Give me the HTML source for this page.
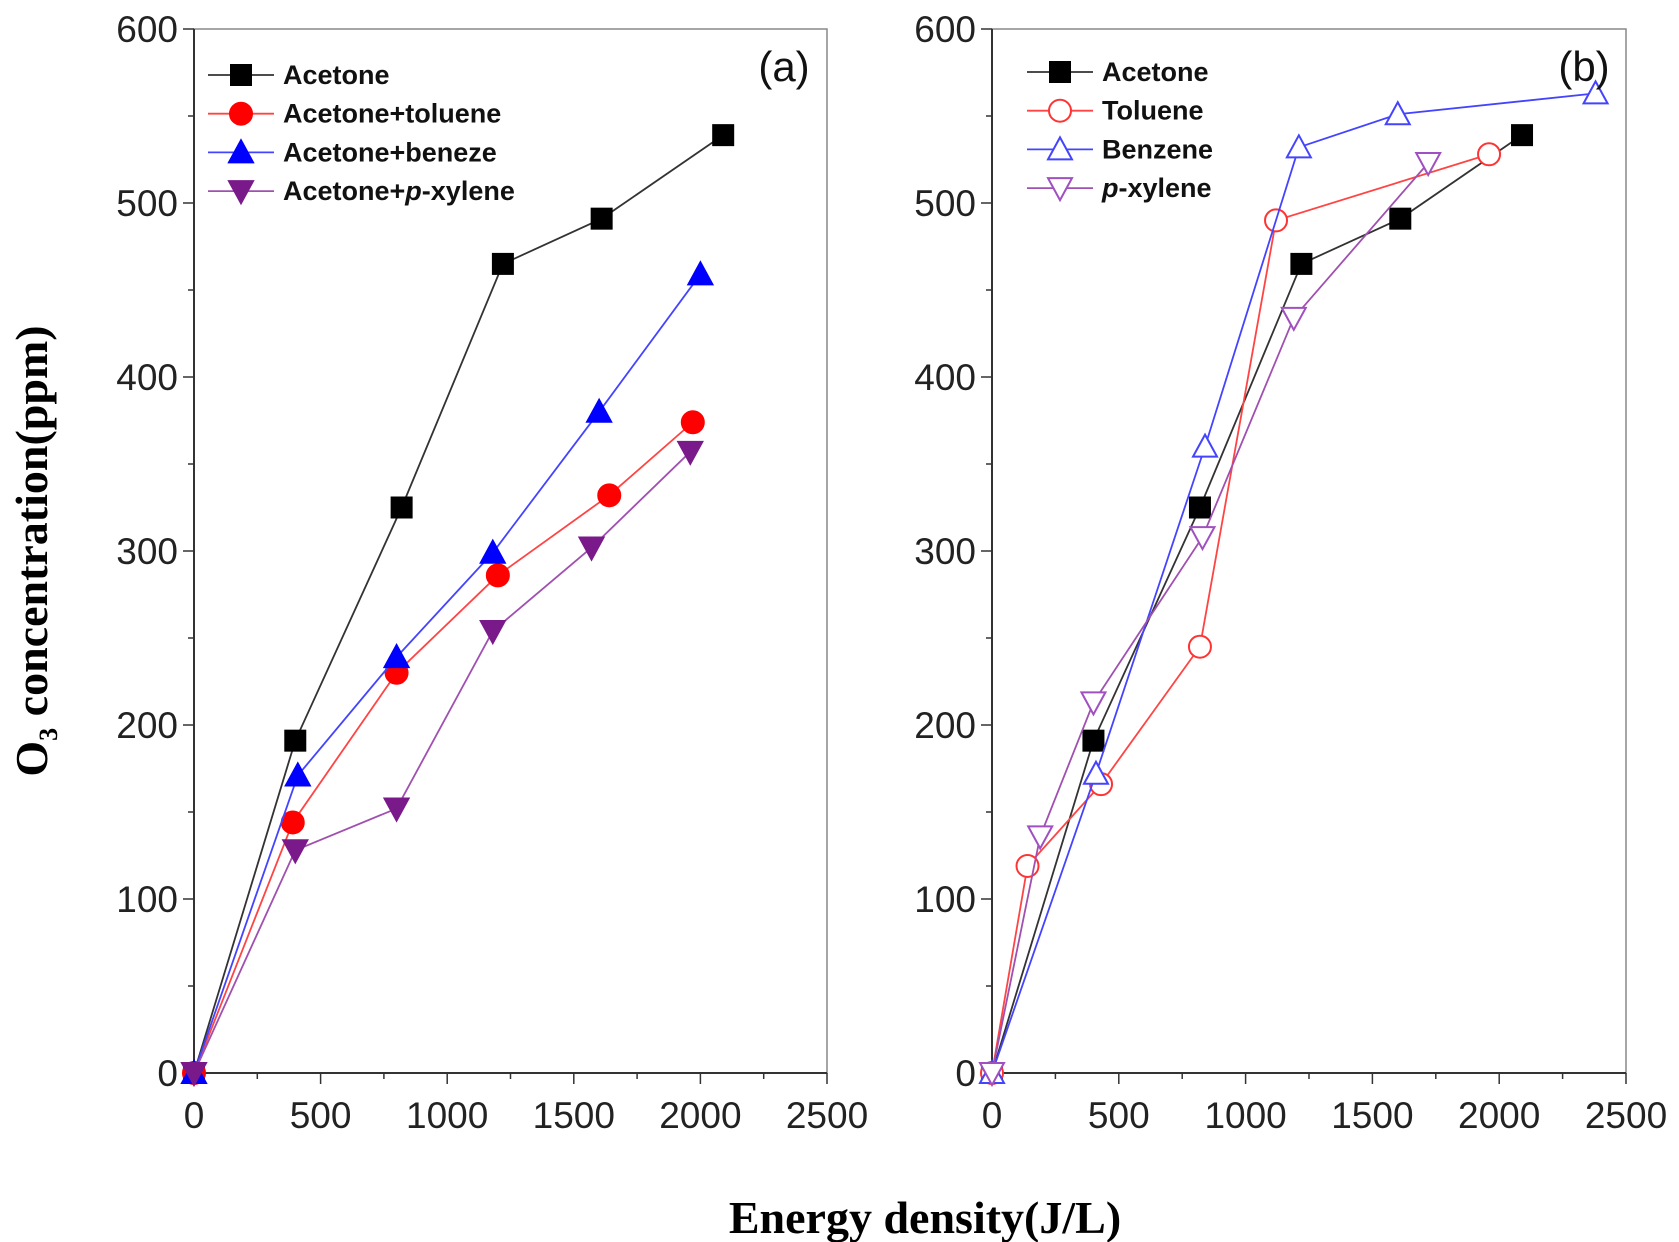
<!DOCTYPE html>
<html><head><meta charset="utf-8"><style>
body{margin:0;background:#fff}
svg{display:block}
</style></head><body>
<svg id="chart" width="1679" height="1242" viewBox="0 0 1679 1242" xmlns="http://www.w3.org/2000/svg" font-family="Liberation Sans, Arial, sans-serif">
<text transform="translate(47,551) rotate(-90)" text-anchor="middle" style="font-family:'Liberation Serif',serif;font-weight:bold;font-size:46px">O<tspan style="font-size:26px" dy="10">3</tspan><tspan dy="-10"> concentration(ppm)</tspan></text>
<text x="925" y="1233" text-anchor="middle" style="font-family:'Liberation Serif',serif;font-weight:bold;font-size:46px">Energy density(J/L)</text>
</svg>
<script>
const xTicks=[0,500,1000,1500,2000,2500];
const yTicks=[0,100,200,300,400,500,600];
// Panel (a)
const aAcetoneX=[0,400,820,1220,1610,2090], aAcetoneY=[0,191,325,465,491,539];
const aTolueneX=[0,390,800,1200,1640,1970], aTolueneY=[0,144,230,286,332,374];
const aBenzeneX=[0,410,800,1180,1600,2000], aBenzeneY=[0,171,239,299,380,459];
const aXyleneX=[0,400,800,1180,1570,1960], aXyleneY=[0,128,152,254,302,357];
// Panel (b)
const bAcetoneX=[0,400,820,1220,1610,2090], bAcetoneY=[0,191,325,465,491,539];
const bTolueneX=[0,140,430,820,1120,1960], bTolueneY=[0,119,166,245,490,528];
const bBenzeneX=[0,410,840,1210,1600,2380], bBenzeneY=[0,172,360,532,551,563];
const bXyleneX=[0,190,400,830,1190,1720], bXyleneY=[0,136,213,308,434,523];
const aLegend=["Acetone","Acetone+toluene","Acetone+beneze","Acetone+p-xylene"];
const bLegend=["Acetone","Toluene","Benzene","p-xylene"];

const NS="http://www.w3.org/2000/svg";
const svg=document.getElementById('chart');
function mk(tag,attrs,parent){const e=document.createElementNS(NS,tag);for(const k in attrs)e.setAttribute(k,attrs[k]);(parent||svg).appendChild(e);return e;}

function marker(g,type,cx,cy,color,filled){
  const f=filled?color:'#fff';let e;
  if(type==='sq'){e=mk('rect',{x:cx-10,y:cy-10,width:20,height:20,fill:f,stroke:color,'stroke-width':2},g);}
  else if(type==='ci'){e=mk('circle',{cx:cx,cy:cy,r:11,fill:f,stroke:color,'stroke-width':2},g);}
  else if(type==='up'){e=mk('polygon',{points:`${cx},${cy-12} ${cx-12},${cy+10} ${cx+12},${cy+10}`,fill:f,stroke:color,'stroke-width':2},g);}
  else {e=mk('polygon',{points:`${cx},${cy+12} ${cx-12},${cy-10} ${cx+12},${cy-10}`,fill:f,stroke:color,'stroke-width':2},g);}
  
  
}

function panel(L,R,T,B,series,legend,lx,ly,label,labelX,name){
  const g=mk('g',{});
  
  
  const sx=v=>L+(v/2500)*(R-L), sy=v=>B-(v/600)*(B-T);
  const frame=mk('rect',{x:L,y:T,width:R-L,height:B-T,fill:'none',stroke:'#888','stroke-width':1.5},g);
  
  
  mk('line',{x1:L,y1:T,x2:L,y2:B,stroke:'#333','stroke-width':2},g);
  mk('line',{x1:L,y1:B,x2:R,y2:B,stroke:'#333','stroke-width':2},g);
  for(let v=0;v<=600;v+=50){const y=sy(v);mk('line',{x1:L-(v%100?6:11),y1:y,x2:L,y2:y,stroke:'#333','stroke-width':1.5},g);}
  for(let v=0;v<=2500;v+=250){const x=sx(v);mk('line',{x1:x,y1:B,x2:x,y2:B+(v%500?6:11),stroke:'#333','stroke-width':1.5},g);}
  yTicks.forEach(v=>{const t=mk('text',{x:L-16,y:sy(v)+13,'text-anchor':'end','font-size':37,fill:'#222'},g);t.textContent=v;
    
    });
  xTicks.forEach(v=>{const t=mk('text',{x:sx(v),y:B+55,'text-anchor':'middle','font-size':37,fill:'#222'},g);t.textContent=v;
    
    });
  series.forEach((s,i)=>{
    const sg=mk('g',{},g);
    
    
    mk('polyline',{points:s.x.map((v,j)=>sx(v)+','+sy(s.y[j])).join(' '),fill:'none',stroke:s.lc,'stroke-width':1.8},sg);
    s.x.forEach((v,j)=>marker(sg,s.m,sx(v),sy(s.y[j]),s.c,s.f));
    const y=ly+i*38.7;
    const lg=mk('g',{},g);
    
    
    mk('line',{x1:lx,y1:y,x2:lx+66,y2:y,stroke:s.lc,'stroke-width':1.8},lg);
    marker(lg,s.m,lx+33,y,s.c,s.f);
    const t=mk('text',{x:lx+75,y:y+9,'font-size':27,'font-weight':'bold',fill:'#111'},lg);
    const n=legend[i];
    if(n.indexOf('p-')>=0){const k=n.indexOf('p-');t.appendChild(document.createTextNode(n.slice(0,k)));const it=mk('tspan',{'font-style':'italic'},t);it.textContent='p';t.appendChild(document.createTextNode(n.slice(k+1)));}
    else t.textContent=n;
  });
  const lb=mk('text',{x:labelX,y:T+52,'text-anchor':'middle','font-size':42,fill:'#111'},g);
  lb.textContent=label;
  
  
}
panel(194,827,29,1073,[
 {x:aAcetoneX,y:aAcetoneY,m:'sq',c:'#000',lc:'#333',f:true},
 {x:aTolueneX,y:aTolueneY,m:'ci',c:'#f00',lc:'#f44',f:true},
 {x:aBenzeneX,y:aBenzeneY,m:'up',c:'#00f',lc:'#44f',f:true},
 {x:aXyleneX,y:aXyleneY,m:'dn',c:'#7a1a8a',lc:'#a050b0',f:true}],aLegend,208,75,'(a)',784,'panel-a');
panel(992,1626,29,1073,[
 {x:bAcetoneX,y:bAcetoneY,m:'sq',c:'#000',lc:'#333',f:true},
 {x:bTolueneX,y:bTolueneY,m:'ci',c:'#f33',lc:'#f44',f:false},
 {x:bBenzeneX,y:bBenzeneY,m:'up',c:'#44f',lc:'#44f',f:false},
 {x:bXyleneX,y:bXyleneY,m:'dn',c:'#a050c0',lc:'#a050b0',f:false}],bLegend,1027,72,'(b)',1584,'panel-b');
</script>
</body></html>
